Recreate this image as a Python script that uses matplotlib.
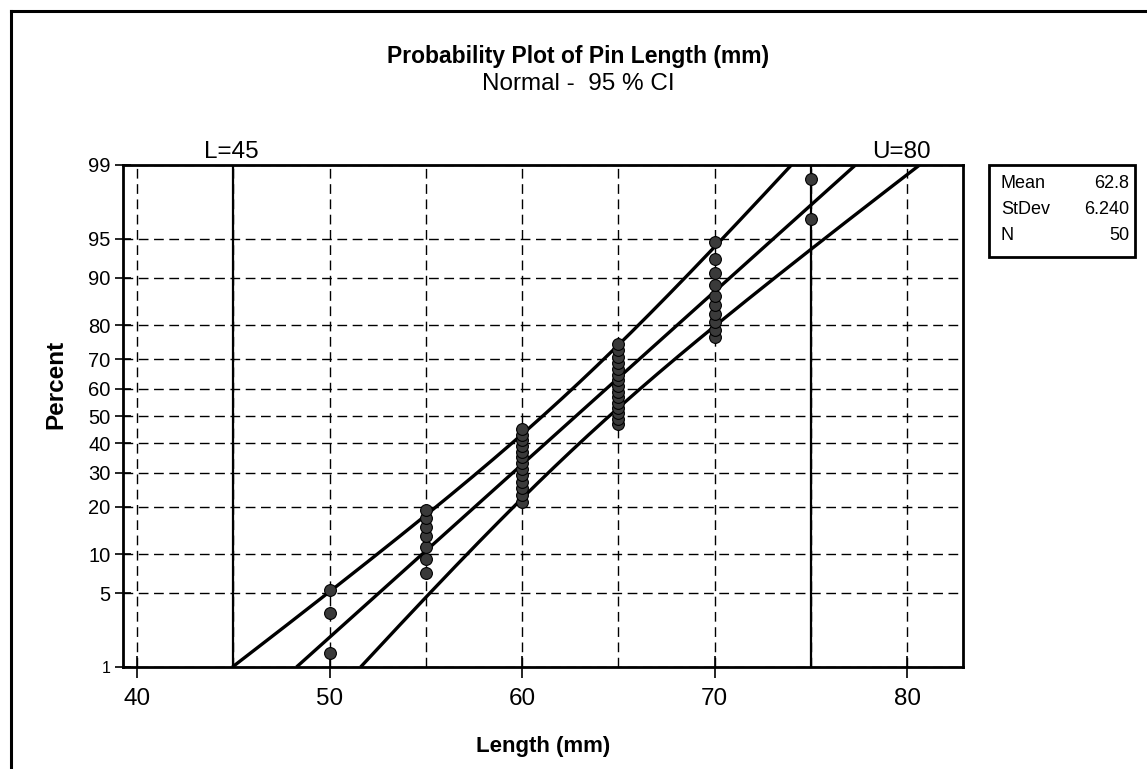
import numpy as np
import matplotlib
matplotlib.use("Agg")
import matplotlib.pyplot as plt
from matplotlib.lines import Line2D
from matplotlib.patches import Rectangle
from statistics import NormalDist

plt.rcParams['font.family'] = ['Liberation Sans', 'DejaVu Sans']

# ── Data: pin lengths (mm) and how many pins at each length ─────────────────
lengths = [50, 55, 60, 65, 70, 75]
counts  = [3, 7, 13, 15, 10, 2]
pct_ticks = [1, 5, 10, 20, 30, 40, 50, 60, 70, 80, 90, 95, 99]
x_ticks   = [40, 50, 60, 70, 80]
x_grid    = [40, 45, 50, 55, 60, 65, 70, 75, 80]
lsl, usl = 45, 80
lsl_line, usl_line = 45, 75

nd = NormalDist()
z = np.vectorize(lambda p: nd.inv_cdf(p / 100.0))

data = np.repeat(lengths, counts).astype(float)
n = len(data)
mean = data.mean()
sd = data.std(ddof=1)
ranks = np.arange(1, n + 1)
pos = (ranks - 0.3) / (n + 0.4) * 100          # median ranks, as Minitab

# fitted line and 95% CI band
pp = np.linspace(1, 99, 300)
zp = z(pp)
fit = mean + zp * sd
se = sd / np.sqrt(n) * np.sqrt(1 + zp**2 / 2)
lo = fit - 1.96 * se
hi = fit + 1.96 * se

# ── Plot ────────────────────────────────────────────────────────────────────
fig = plt.figure(figsize=(11.47, 7.69), dpi=100)
ax = fig.add_axes([123/1147, 1 - 667/769, 840/1147, 502/769])

for v in x_grid:
    ax.axvline(v, color='black', lw=1.0, ls=(0, (7, 4)), zorder=1)
for p in pct_ticks:
    ax.axhline(z(p), color='black', lw=1.0, ls=(0, (7, 4)), zorder=1)

ax.axvline(lsl_line, color='black', lw=1.6, zorder=2)
ax.axvline(usl_line, color='black', lw=1.6, zorder=2)

for xs in (lo, fit, hi):
    ax.plot(xs, zp, color='black', lw=2.4, zorder=3, solid_capstyle='butt')

ax.plot(np.sort(data), z(pos), 'o', ms=8.5, mfc='#3a3a3a', mec='black',
        mew=0.8, zorder=4, clip_on=False)

ax.set_xlim(39.27, 82.9)
ax.set_ylim(z(1), z(99))
ax.set_xticks(x_ticks)
ax.set_xticklabels([str(t) for t in x_ticks], fontsize=17.5)
ax.set_yticks(z(pct_ticks))
ax.set_yticklabels([str(p) for p in pct_ticks], fontsize=14.5)
ax.get_yticklabels()[0].set_fontsize(11.5)
ax.tick_params(axis='x', direction='inout', length=16, width=1.2, pad=7)
ax.tick_params(axis='y', direction='inout', length=12, width=1.2, pad=3)
for s in ax.spines.values():
    s.set_linewidth(2)

ax.set_xlabel("Length (mm)", fontsize=16, fontweight='bold', labelpad=19)
ax.set_ylabel("Percent", fontsize=17.5, fontweight='bold')
ax.yaxis.set_label_coords(-0.066, 0.562)

ax.text(lsl - 0.1, 1.004, f"L={lsl}", transform=ax.get_xaxis_transform(),
        ha='center', va='bottom', fontsize=17.5)
ax.text(usl - 0.3, 1.004, f"U={usl}", transform=ax.get_xaxis_transform(),
        ha='center', va='bottom', fontsize=17.5)

fig.text(0.504, 1 - 57/769, "Probability Plot of Pin Length (mm)",
         ha='center', va='center', fontsize=16.5, fontweight='bold')
fig.text(0.504, 1 - 84/769, "Normal -  95 % CI",
         ha='center', va='center', fontsize=17.5)

# stats box
fig.add_artist(Rectangle((989/1147, 1 - 257/769), 146/1147, 92/769,
                         transform=fig.transFigure, fill=False, lw=2,
                         edgecolor='black'))
rows = [("Mean", f"{mean:.1f}"), ("StDev", f"{sd:.3f}"), ("N", f"{n}")]
for i, (k, v) in enumerate(rows):
    yy = 1 - (183 + i * 26.5) / 769
    fig.text(1001/1147, yy, k, ha='left', va='center', fontsize=13)
    fig.text(1129/1147, yy, v, ha='right', va='center', fontsize=13)

# outer frame (left and top edges)
fig.add_artist(Line2D([10.5/1147, 10.5/1147], [0, 1 - 10.5/769],
                      transform=fig.transFigure, color='black', lw=2.2))
fig.add_artist(Line2D([10.5/1147, 1], [1 - 10.5/769, 1 - 10.5/769],
                      transform=fig.transFigure, color='black', lw=2.2))

fig.savefig("out.png", dpi=100)
